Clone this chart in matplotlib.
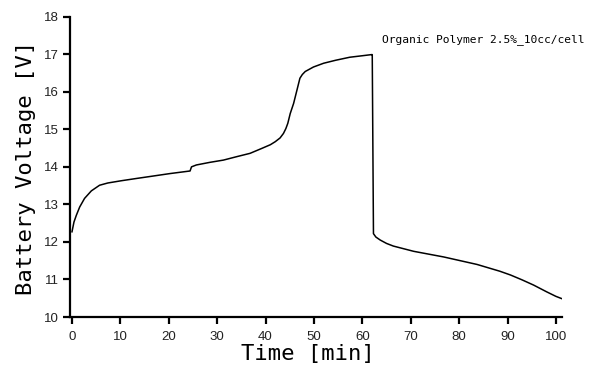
import matplotlib
matplotlib.use("Agg")
import matplotlib.pyplot as plt

# curva de tension (tiempo en min, tension en V)
tiempo = [0.0, 0.41, 0.9, 1.59, 2.6, 4.0, 5.7, 7.4, 10.2, 13.3, 16.5, 20.2,
          24.4, 24.7, 25.7, 28.5, 31.3, 34.0, 36.8, 39.2, 41.0, 42.0, 43.0,
          43.7, 44.2, 44.6, 45.1, 45.8, 46.5, 47.1, 47.6, 48.2, 49.9, 52.0,
          54.5, 57.4, 60.0, 61.9, 62.05, 62.3, 62.8, 63.7, 65.0, 66.4, 70.6,
          76.8, 83.7, 88.4, 90.6, 93.0, 95.4, 98.1, 100.0, 101.2]
voltaje = [12.27, 12.53, 12.71, 12.93, 13.16, 13.36, 13.51, 13.57, 13.63, 13.69,
           13.75, 13.82, 13.89, 14.0, 14.05, 14.12, 14.18, 14.27, 14.36, 14.49,
           14.59, 14.67, 14.77, 14.89, 15.02, 15.16, 15.42, 15.69, 16.05, 16.36,
           16.46, 16.54, 16.66, 16.76, 16.84, 16.92, 16.96, 16.99, 16.99, 12.22,
           12.13, 12.05, 11.96, 11.89, 11.75, 11.6, 11.4, 11.22, 11.12, 10.99,
           10.85, 10.67, 10.55, 10.49]

etiqueta = "Organic Polymer 2.5%_10cc/cell"
xticks = [0, 10, 20, 30, 40, 50, 60, 70, 80, 90, 100]
yticks = [10, 11, 12, 13, 14, 15, 16, 17, 18]

fig = plt.figure(figsize=(5.91, 3.73), dpi=100)
ax = fig.add_axes([70 / 591, 1 - 317 / 373, 491.7 / 591, 300.3 / 373])

ax.plot(tiempo, voltaje, color="black", linewidth=1.1)

ax.set_xlim(-0.41, 101.2)
ax.set_ylim(10, 18)
ax.set_xticks(xticks)
ax.set_yticks(yticks)

for lado in ["top", "right"]:
    ax.spines[lado].set_visible(False)
for lado in ["left", "bottom"]:
    ax.spines[lado].set_linewidth(1.6)

ax.tick_params(axis="both", direction="out", length=5, width=1.6,
               labelsize=9.5, colors="black")
ax.tick_params(axis="x", pad=5)
ax.tick_params(axis="y", pad=3)
for t in ax.get_xticklabels() + ax.get_yticklabels():
    t.set_family("Liberation Sans")
    t.set_color("#222222")

mono = "DejaVu Sans Mono"
ax.set_xlabel("Time [min]", family=mono, fontsize=16)
ax.xaxis.set_label_coords(0.483, -0.09)
ax.set_ylabel("Battery Voltage [V]", family=mono, fontsize=16)
ax.yaxis.set_label_coords(-0.089, 0.495)
ax.yaxis.label.set_va("center")

ax.text(64.0, 17.38, etiqueta, family=mono, fontsize=8.1, va="center",
        ha="left", clip_on=False)

fig.savefig("out.png", dpi=100)
